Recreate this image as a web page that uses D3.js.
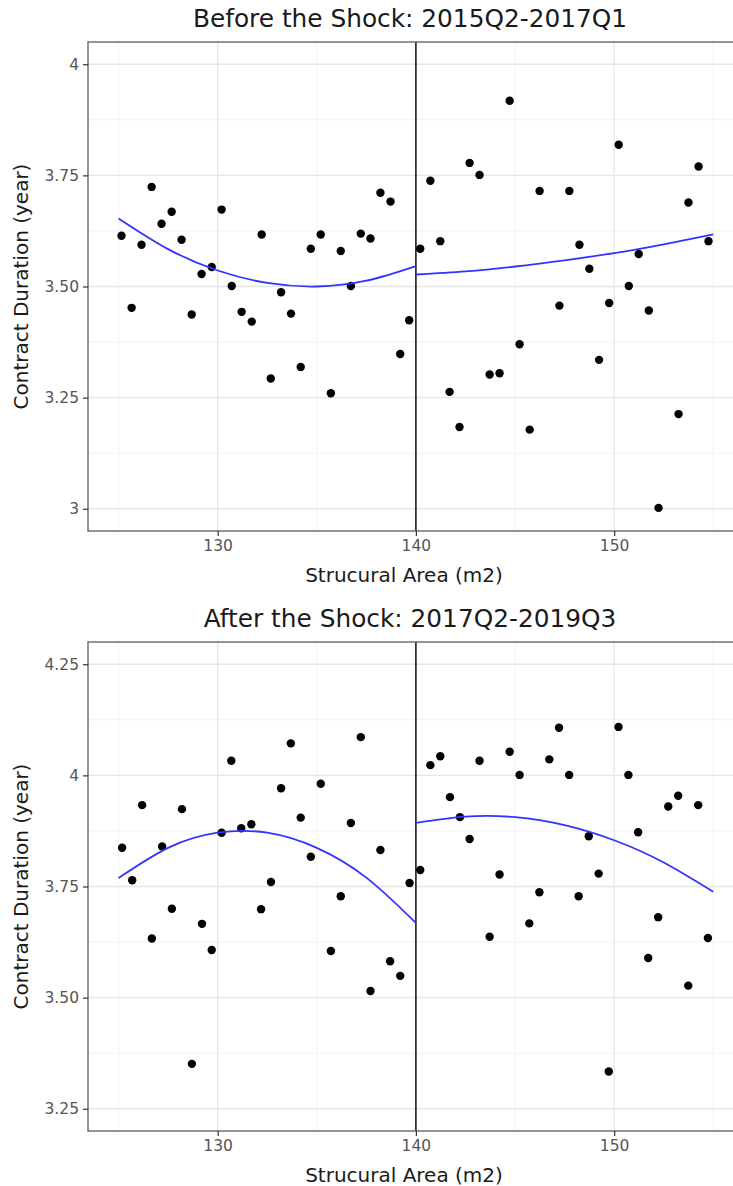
<!DOCTYPE html>
<html>
<head>
<meta charset="utf-8">
<script src="https://cdn.jsdelivr.net/npm/d3@7"></script>
<style>
  body { margin: 0; background: #fff; }
  svg { display: block; font-family: 'DejaVu Sans', sans-serif; }
</style>
</head>
<body>
<div id="chart"></div>
<script>
// data
const areaBefore = [125.15, 125.66, 126.16, 126.67, 127.17, 127.68, 128.18, 128.69, 129.19, 129.70,
  130.20, 130.71, 131.21, 131.72, 132.22, 132.68, 133.20, 133.70, 134.19, 134.70,
  135.20, 135.71, 136.21, 136.72, 137.22, 137.71, 138.21, 138.72, 139.21, 139.66,
  140.22, 140.73, 141.23, 141.70, 142.20, 142.71, 143.21, 143.72, 144.22, 144.73,
  145.23, 145.74, 146.24, 147.24, 147.74, 148.25, 148.75, 149.24, 149.75, 150.23,
  150.74, 151.24, 151.75, 152.24, 153.25, 153.75, 154.26, 154.76]
const durationBefore = [3.614, 3.452, 3.594, 3.724, 3.641, 3.668, 3.605, 3.437, 3.528, 3.544,
  3.673, 3.501, 3.443, 3.421, 3.617, 3.293, 3.487, 3.439, 3.319, 3.585,
  3.617, 3.260, 3.580, 3.501, 3.619, 3.608, 3.711, 3.691, 3.348, 3.424,
  3.585, 3.738, 3.602, 3.263, 3.184, 3.778, 3.751, 3.302, 3.305, 3.918,
  3.370, 3.178, 3.715, 3.457, 3.715, 3.594, 3.540, 3.335, 3.463, 3.819,
  3.501, 3.573, 3.446, 3.002, 3.213, 3.689, 3.770, 3.602]

const areaAfter = [125.18, 125.69, 126.19, 126.68, 127.20, 127.69, 128.20, 128.70, 129.21, 129.70,
  130.20, 130.69, 131.19, 131.70, 132.19, 132.69, 133.20, 133.69, 134.19, 134.70,
  135.20, 135.71, 136.21, 136.72, 137.22, 137.71, 138.21, 138.70, 139.21, 139.68,
  140.22, 140.73, 141.23, 141.72, 142.22, 142.71, 143.21, 143.72, 144.22, 144.73,
  145.23, 145.72, 146.23, 146.73, 147.22, 147.73, 148.21, 148.72, 149.22, 149.73,
  150.22, 150.72, 151.21, 151.72, 152.22, 152.73, 153.23, 153.74, 154.24, 154.73]
const durationAfter = [3.837, 3.764, 3.933, 3.633, 3.840, 3.700, 3.924, 3.351, 3.666, 3.607,
  3.871, 4.033, 3.881, 3.890, 3.699, 3.760, 3.971, 4.072, 3.905, 3.817,
  3.981, 3.605, 3.728, 3.893, 4.086, 3.515, 3.832, 3.582, 3.549, 3.758,
  3.787, 4.023, 4.043, 3.951, 3.906, 3.857, 4.033, 3.637, 3.777, 4.053,
  4.001, 3.667, 3.737, 4.036, 4.107, 4.001, 3.728, 3.863, 3.779, 3.334,
  4.109, 4.001, 3.872, 3.589, 3.681, 3.930, 3.954, 3.527, 3.933, 3.634]

// smoothed fits on each side of the cutoff
const fitAreaLeft = [125, 127.5, 130, 132.5, 135, 137.5, 140]
const fitAreaRight = [140, 142.5, 145, 147.5, 150, 152.5, 155]
const fitBeforeLeft = [3.653, 3.584, 3.536, 3.508, 3.500, 3.513, 3.546]
const fitBeforeRight = [3.527, 3.534, 3.545, 3.559, 3.575, 3.595, 3.617]
const fitAfterLeft = [3.769, 3.837, 3.871, 3.871, 3.837, 3.770, 3.668]
const fitAfterRight = [3.893, 3.907, 3.906, 3.888, 3.854, 3.804, 3.738]

const cutoff = 140

const xTicks = [130, 140, 150]
const xMinorTicks = [125, 135, 145, 155]
const yTicksBefore = [3, 3.25, 3.5, 3.75, 4]
const yLabelsBefore = ['3', '3.25', '3.50', '3.75', '4']
const yTicksAfter = [3.25, 3.5, 3.75, 4, 4.25]
const yLabelsAfter = ['3.25', '3.50', '3.75', '4', '4.25']

const width = 733
const fullHeight = 1186

const svg = d3.select('#chart')
  .append('svg')
  .attr('width', width)
  .attr('height', fullHeight)

const panelLeft = 88
const panelRight = 743
const panelHeight = 489

const xPositionScale = d3.scaleLinear()
  .domain([123.46, 156.5])
  .range([panelLeft, panelRight])

function drawPanel (top, title, areas, durations, yDomain, yTicks, yLabels, fitLeft, fitRight) {
  const g = svg.append('g').attr('transform', 'translate(0,' + top + ')')

  const yPositionScale = d3.scaleLinear()
    .domain(yDomain)
    .range([panelHeight, 0])

  const yMinor = yTicks.slice(1).map((t, i) => (t + yTicks[i]) / 2)

  // grid lines
  g.selectAll('.x-minor')
    .data(xMinorTicks)
    .enter().append('line')
    .attr('x1', d => xPositionScale(d))
    .attr('x2', d => xPositionScale(d))
    .attr('y1', 0)
    .attr('y2', panelHeight)
    .attr('stroke', '#f3f3f3')
    .attr('stroke-width', 1)

  g.selectAll('.y-minor')
    .data(yMinor)
    .enter().append('line')
    .attr('x1', panelLeft)
    .attr('x2', panelRight)
    .attr('y1', d => yPositionScale(d))
    .attr('y2', d => yPositionScale(d))
    .attr('stroke', '#f3f3f3')
    .attr('stroke-width', 1)

  g.selectAll('.x-major')
    .data(xTicks)
    .enter().append('line')
    .attr('x1', d => xPositionScale(d))
    .attr('x2', d => xPositionScale(d))
    .attr('y1', 0)
    .attr('y2', panelHeight)
    .attr('stroke', '#e6e6e6')
    .attr('stroke-width', 1.3)

  g.selectAll('.y-major')
    .data(yTicks)
    .enter().append('line')
    .attr('x1', panelLeft)
    .attr('x2', panelRight)
    .attr('y1', d => yPositionScale(d))
    .attr('y2', d => yPositionScale(d))
    .attr('stroke', '#e6e6e6')
    .attr('stroke-width', 1.3)

  // cutoff line
  g.append('line')
    .attr('x1', xPositionScale(cutoff))
    .attr('x2', xPositionScale(cutoff))
    .attr('y1', 0)
    .attr('y2', panelHeight)
    .attr('stroke', '#111')
    .attr('stroke-width', 1.5)

  // points
  g.selectAll('.point')
    .data(areas)
    .enter().append('circle')
    .attr('class', 'point')
    .attr('cx', d => xPositionScale(d))
    .attr('cy', (d, i) => yPositionScale(durations[i]))
    .attr('r', 4.2)
    .attr('fill', 'black')

  // fitted curves
  const line = d3.line()
    .x(d => xPositionScale(d[0]))
    .y(d => yPositionScale(d[1]))
    .curve(d3.curveNatural)

  g.append('path')
    .datum(fitAreaLeft.map((a, i) => [a, fitLeft[i]]))
    .attr('d', line)
    .attr('fill', 'none')
    .attr('stroke', '#3333ff')
    .attr('stroke-width', 1.8)

  g.append('path')
    .datum(fitAreaRight.map((a, i) => [a, fitRight[i]]))
    .attr('d', line)
    .attr('fill', 'none')
    .attr('stroke', '#3333ff')
    .attr('stroke-width', 1.8)

  // panel border
  g.append('rect')
    .attr('x', panelLeft)
    .attr('y', 0)
    .attr('width', panelRight - panelLeft)
    .attr('height', panelHeight)
    .attr('fill', 'none')
    .attr('stroke', '#666')
    .attr('stroke-width', 1.4)

  // axes
  const yAxis = d3.axisLeft(yPositionScale)
    .tickValues(yTicks)
    .tickFormat((d, i) => yLabels[i])
    .tickSize(5)
    .tickPadding(4)
  g.append('g')
    .attr('class', 'axis y-axis')
    .attr('transform', 'translate(' + panelLeft + ',0)')
    .call(yAxis)

  const xAxis = d3.axisBottom(xPositionScale)
    .tickValues(xTicks)
    .tickFormat(d3.format('d'))
    .tickSize(5)
    .tickPadding(4)
  g.append('g')
    .attr('class', 'axis x-axis')
    .attr('transform', 'translate(0,' + panelHeight + ')')
    .call(xAxis)

  g.selectAll('.axis path').remove()
  g.selectAll('.axis line').attr('stroke', '#333').attr('stroke-width', 1.2)
  g.selectAll('.axis text')
    .attr('fill', '#555')
    .style('font-size', '15.5px')
    .style('font-family', 'DejaVu Sans, sans-serif')

  // titles
  g.append('text')
    .attr('x', 410)
    .attr('y', -15)
    .attr('text-anchor', 'middle')
    .attr('fill', '#1a1a1a')
    .style('font-size', '24.8px')
    .text(title)

  g.append('text')
    .attr('x', 404)
    .attr('y', panelHeight + 51)
    .attr('text-anchor', 'middle')
    .attr('fill', '#1a1a1a')
    .style('font-size', '20px')
    .text('Strucural Area (m2)')

  g.append('text')
    .attr('transform', 'translate(28,' + (panelHeight / 2) + ') rotate(-90)')
    .attr('text-anchor', 'middle')
    .attr('fill', '#1a1a1a')
    .style('font-size', '20px')
    .text('Contract Duration (year)')
}

drawPanel(42, 'Before the Shock: 2015Q2-2017Q1', areaBefore, durationBefore,
  [2.95, 4.05], yTicksBefore, yLabelsBefore, fitBeforeLeft, fitBeforeRight)

drawPanel(642, 'After the Shock: 2017Q2-2019Q3', areaAfter, durationAfter,
  [3.2, 4.3], yTicksAfter, yLabelsAfter, fitAfterLeft, fitAfterRight)
</script>
</body>
</html>
